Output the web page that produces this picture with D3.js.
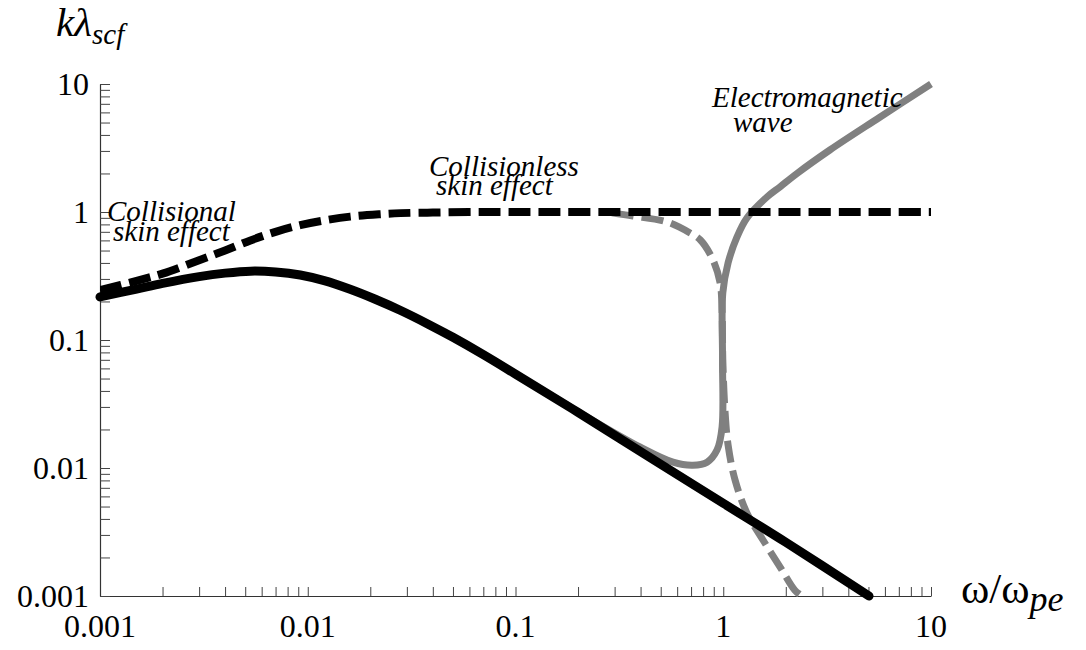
<!DOCTYPE html>
<html>
<head>
<meta charset="utf-8">
<script src="https://cdn.jsdelivr.net/npm/d3@7"></script>
<style>
  body { margin: 0; background: #fff; }
  svg { display: block; }
  text { font-family: "Liberation Serif", "Times New Roman", serif; fill: #000; }
</style>
</head>
<body>
<svg id="chart" width="1086" height="650"></svg>
<script>
// Normalised wavenumber kλscf against frequency ω/ωpe (log–log).

// Collisional skin effect (black, solid)
const collisionalW = [0.001, 0.0015, 0.002, 0.003, 0.004, 0.0053, 0.007, 0.0092, 0.012, 0.016, 0.021, 0.028, 0.038, 0.05, 0.07, 0.1, 0.2, 0.5, 1, 2, 5.03];
const collisionalK = [0.217, 0.25, 0.277, 0.313, 0.333, 0.345, 0.34, 0.322, 0.291, 0.249, 0.209, 0.17, 0.133, 0.105, 0.0769, 0.0542, 0.0272, 0.0107, 0.0053, 0.00263, 0.001];

// Collisionless skin effect (black, dashed)
const collisionlessW = [0.001, 0.0015, 0.002, 0.003, 0.004, 0.0053, 0.007, 0.0092, 0.012, 0.016, 0.022, 0.028, 0.04, 0.06, 0.1, 1, 10];
const collisionlessK = [0.245, 0.29, 0.33, 0.42, 0.5, 0.6, 0.7, 0.79, 0.86, 0.92, 0.96, 0.98, 0.99, 1.0, 1.0, 1.0, 1.0];

// Full dispersion, real part (grey, solid)
const realW = [0.05, 0.1, 0.198, 0.397, 0.573, 0.714, 0.836, 0.933, 0.987, 0.992, 0.995, 1.055, 1.165, 1.30, 1.624, 1.875, 2.265, 3.26, 5.67, 10];
const realK = [0.105, 0.0542, 0.0278, 0.0146, 0.0111, 0.0105, 0.0111, 0.0138, 0.0209, 0.0698, 0.233, 0.40, 0.638, 0.897, 1.31, 1.57, 2.0, 3.05, 5.5, 10];

// Full dispersion, imaginary part (grey, dashed)
const imagW = [0.291, 0.368, 0.536, 0.692, 0.776, 0.893, 0.966, 0.987, 0.995, 1.019, 1.055, 1.14, 1.30, 1.553, 1.875, 2.21, 2.41, 2.6];
const imagK = [0.985, 0.93, 0.836, 0.686, 0.604, 0.422, 0.279, 0.171, 0.0698, 0.0284, 0.0151, 0.00806, 0.00445, 0.00274, 0.00169, 0.00111, 0.00098, 0.0008];

// Axis tick labels
const xTickLabels = ["0.001", "0.01", "0.1", "1", "10"];
const yTickLabels = ["0.001", "0.01", "0.1", "1", "10"];

// Curve annotations
const annotationLines = [
  ["Collisional", "skin effect"],
  ["Collisionless", "skin effect"],
  ["Electromagnetic", "wave"]
];

const svg = d3.select("#chart");
const plotLeft = 100, plotRight = 931, plotTop = 84, plotBottom = 596;

const x = d3.scaleLog().domain([0.001, 10]).range([plotLeft, plotRight]);
const y = d3.scaleLog().domain([0.001, 10]).range([plotBottom, plotTop]);

svg.append("defs").append("clipPath").attr("id", "plotClip")
  .append("rect").attr("x", plotLeft).attr("y", plotTop - 20)
  .attr("width", plotRight - plotLeft + 20).attr("height", plotBottom - plotTop + 21);

// Axes with inward ticks
const xAxis = d3.axisBottom(x).tickValues(x.ticks()).tickSizeInner(-9).tickSizeOuter(0).tickFormat("");
const yAxis = d3.axisLeft(y).tickValues(y.ticks()).tickSizeInner(-10).tickSizeOuter(0).tickFormat("");

const gx = svg.append("g").attr("transform", `translate(0,${plotBottom})`).call(xAxis);
const gy = svg.append("g").attr("transform", `translate(${plotLeft},0)`).call(yAxis);
[gx, gy].forEach(g => {
  g.selectAll("path.domain").attr("stroke", "#333").attr("stroke-width", 1.2);
  g.selectAll(".tick line").attr("stroke", "#444").attr("stroke-width", 1);
});

// Tick labels at each decade
const decades = [0.001, 0.01, 0.1, 1, 10];
svg.append("g").selectAll("text").data(decades).join("text")
  .attr("x", d => x(d)).attr("y", plotBottom + 41)
  .attr("text-anchor", "middle").attr("font-size", 32)
  .text((d, i) => xTickLabels[i]);
svg.append("g").selectAll("text").data(decades).join("text")
  .attr("x", plotLeft - 11).attr("y", d => y(d) + 11)
  .attr("text-anchor", "end").attr("font-size", 32)
  .text((d, i) => yTickLabels[i]);

// Axis titles
const yTitle = svg.append("text").attr("x", 56).attr("y", 36).attr("font-size", 41).attr("font-style", "italic");
yTitle.append("tspan").text("kλ");
yTitle.append("tspan").attr("font-size", 29).attr("dy", 8).text("scf");

const xTitle = svg.append("text").attr("x", 961).attr("y", 603).attr("font-size", 43);
xTitle.append("tspan").text("ω/ω");
xTitle.append("tspan").attr("font-size", 36).attr("font-style", "italic").attr("dy", 8).text("pe");

// Curves
const line = d3.line()
  .x(d => x(d[0])).y(d => y(d[1]))
  .curve(d3.curveCatmullRom.alpha(0.5));
const zip = (a, b) => a.map((v, i) => [v, b[i]]);

const plot = svg.append("g").attr("clip-path", "url(#plotClip)");

plot.append("path").datum(zip(realW, realK))
  .attr("d", line).attr("fill", "none")
  .attr("stroke", "#808080").attr("stroke-width", 7);

plot.append("path").datum(zip(imagW, imagK))
  .attr("d", line).attr("fill", "none")
  .attr("stroke", "#808080").attr("stroke-width", 7)
  .attr("stroke-dasharray", "22,8");

plot.append("path").datum(zip(collisionlessW, collisionlessK))
  .attr("d", line).attr("fill", "none")
  .attr("stroke", "#000").attr("stroke-width", 8)
  .attr("stroke-dasharray", "22,8");

svg.append("path").datum(zip(collisionalW, collisionalK))
  .attr("d", line).attr("fill", "none")
  .attr("stroke", "#000").attr("stroke-width", 9)
  .attr("stroke-linecap", "round");

// Two-line annotations: first line position, then indent/offset of the second
const annotationPos = [
  { x: 107, y: 221, dx2: 6, dy2: 20 },
  { x: 429, y: 176, dx2: 7, dy2: 19 },
  { x: 712, y: 107, dx2: 21, dy2: 25 }
];
const notes = svg.append("g").attr("font-style", "italic").attr("font-size", 29);
annotationLines.forEach((lines, i) => {
  const p = annotationPos[i];
  const t = notes.append("text").attr("x", p.x).attr("y", p.y);
  t.append("tspan").attr("x", p.x).attr("y", p.y).text(lines[0]);
  t.append("tspan").attr("x", p.x + p.dx2).attr("y", p.y + p.dy2).text(lines[1]);
});
</script>
</body>
</html>
